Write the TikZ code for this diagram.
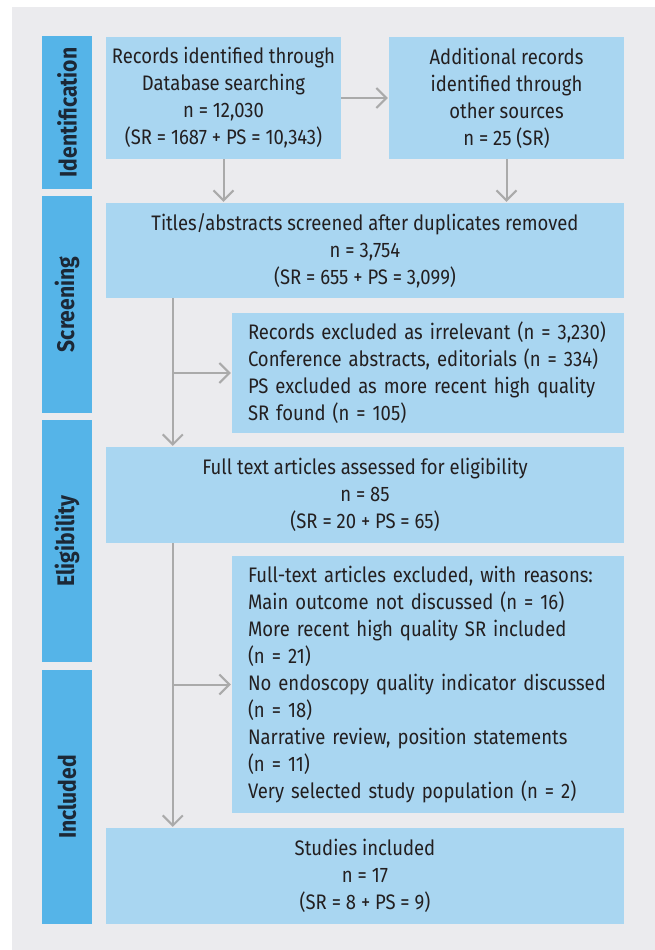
\documentclass[tikz,border=0pt]{standalone}
\usepackage{fontspec}
\setmainfont{Fira Sans}[FakeStretch=0.88]
\usetikzlibrary{arrows.meta}
\definecolor{panel}{HTML}{EBEBEE}
\definecolor{barblue}{HTML}{55B4E8}
\definecolor{boxblue}{HTML}{A9D6F1}
\definecolor{txt}{HTML}{231F20}
\definecolor{lbl}{HTML}{1C2836}
\definecolor{arrgray}{HTML}{AAAAAA}
\tikzset{
  bar/.style={fill=barblue, inner sep=0pt, minimum width=50pt},
  bartext/.style={text=lbl, font=\fontsize{24pt}{28pt}\selectfont\bfseries, rotate=90},
  cbox/.style={fill=boxblue, inner sep=0pt, text=txt, align=center,
    font=\fontsize{21pt}{27pt}\selectfont},
  lbox/.style={fill=boxblue, inner xsep=16pt, inner ysep=0pt, text=txt, align=left,
    text width=360pt, font=\fontsize{21pt}{27pt}\selectfont},
  arr/.style={draw=arrgray, line width=2pt,
    -{Straight Barb[length=10pt,width=20pt,line width=2pt]}, shorten >=1pt}
}
\begin{document}
\begin{tikzpicture}[x=1pt,y=-1pt]
\useasboundingbox (0,0) rectangle (655,950);
\fill[panel] (12,7) rectangle (655,950);

% stage bars
\node[bar, minimum height=153pt] (bid) at (67,112.5) {};
\node[bartext] (lid) at (bid.center) {Identification};
\node[bar, minimum height=217pt] (bsc) at (67,304.5) {};
\node[bartext] (lsc) at (bsc.center) {Screening};
\node[bar, minimum height=242pt] (bel) at (67,541) {};
\node[bartext] (lel) at (bel.center) {Eligibility};
\node[bar, minimum height=254pt] (bin) at (67,797) {};
\node[bartext] (lin) at (bin.center) {Included};

% boxes
\node[cbox, minimum width=235pt, minimum height=122pt] (db) at (223.5,98)
  {Records identified through\\Database searching\\n = 12,030\\(SR = 1687 + PS = 10,343)};
\node[cbox, minimum width=235pt, minimum height=122pt] (other) at (506.5,98)
  {Additional records\\identified through\\other sources\\n = 25 (SR)};
\node[cbox, minimum width=518pt, minimum height=95pt] (titles) at (365,250.5)
  {Titles/abstracts screened after duplicates removed\\n = 3,754\\(SR = 655 + PS = 3,099)};
\node[lbox, minimum height=120pt] (ex1) at (428,373)
  {Records excluded as irrelevant (n = 3,230)\\Conference abstracts, editorials (n = 334)\\PS excluded as more recent high quality\\SR found (n = 105)};
\node[cbox, minimum width=518pt, minimum height=96pt] (full) at (365,495)
  {Full text articles assessed for eligibility\\n = 85\\(SR = 20 + PS = 65)};
\node[lbox, minimum height=257pt] (ex2) at (428,684.5)
  {Full-text articles excluded, with reasons:\\Main outcome not discussed (n = 16)\\More recent high quality SR included\\(n = 21)\\No endoscopy quality indicator discussed\\(n = 18)\\Narrative review, position statements\\(n = 11)\\Very selected study population (n = 2)};
\node[cbox, minimum width=518pt, minimum height=96pt] (inc) at (365,876)
  {Studies included\\n = 17\\(SR = 8 + PS = 9)};

% connectors
\draw[arr] (db.east) -- (other.west);
\draw[arr] (db.south) -- (db.south |- titles.north);
\draw[arr] (other.south) -- (other.south |- titles.north);
\coordinate (tr1) at ([xshift=67pt]titles.south west);
\coordinate (tr2) at ([xshift=67pt]full.south west);
\draw[arr] (tr1) -- (tr1 |- full.north);
\draw[arr] (tr1 |- ex1.west) -- (ex1.west);
\draw[arr] (tr2) -- (tr2 |- inc.north);
\draw[arr] (tr2 |- ex2.west) -- (ex2.west);
\end{tikzpicture}
\end{document}
